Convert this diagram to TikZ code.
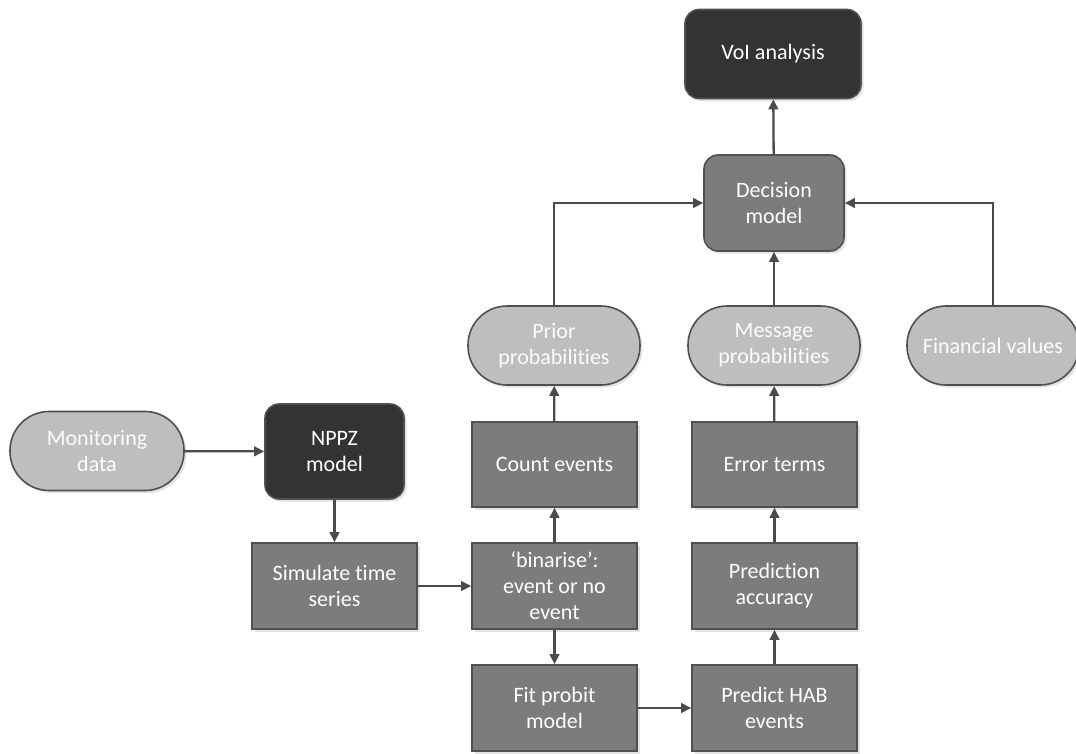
\documentclass[tikz,border=0pt]{standalone}
\usepackage{fontspec}
\setmainfont[Ligatures={NoCommon}]{Carlito}
\usetikzlibrary{arrows.meta,shadows}

\definecolor{darkbox}{RGB}{51,51,51}
\definecolor{midbox}{RGB}{124,124,124}
\definecolor{lightbox}{RGB}{190,190,190}
\definecolor{edgegray}{RGB}{80,80,80}
\definecolor{arrowgray}{RGB}{75,75,75}

\tikzset{
  every picture/.style={line width=1.6pt},
  boxbase/.style={draw=edgegray, text=white, align=center, inner sep=2pt,
    font=\fontsize{22}{26}\selectfont,
    drop shadow={opacity=0.22, shadow xshift=2.5pt, shadow yshift=-2.5pt}},
  darkrnd/.style={boxbase, fill=darkbox, rounded corners=14pt},
  midrnd/.style={boxbase, fill=midbox, rounded corners=14pt},
  stadium/.style={boxbase, fill=lightbox, text=white!95!lightbox, rounded corners=39pt,
    minimum width=172pt, minimum height=79pt},
  procbox/.style={boxbase, fill=midbox, minimum width=165pt, minimum height=86pt},
  flow/.style={draw=arrowgray, line width=2.3pt, -{Triangle[length=10pt,width=9.5pt]}}
}

\begin{document}
\begin{tikzpicture}[x=1pt,y=1pt,yscale=-1,xscale=1]
\useasboundingbox (0,0) rectangle (1076,753);

% Top nodes
\node [darkrnd, minimum width=176pt, minimum height=89pt] (voi) at (773,54) {VoI analysis};
\node [midrnd, minimum width=140pt, minimum height=96pt] (decision) at (774,203) {Decision\\model};

% Probability nodes
\node [stadium] (prior) at (554,345.5) {Prior\\probabilities};
\node [stadium] (message) at (774,345.5) {Message\\probabilities};
\node [stadium] (financial) at (993,345.5) {Financial values};

% Left nodes
\node [stadium, minimum width=174pt] (monitoring) at (97,451) {Monitoring\\data};
\node [darkrnd, minimum width=139pt, minimum height=95pt] (nppz) at (334.5,451.5) {NPPZ\\model};

% Process boxes
\node [procbox, minimum height=85pt] (count) at (554.5,464.5) {Count events};
\node [procbox, minimum height=85pt] (error) at (774.5,464.5) {Error terms};
\node [procbox] (simulate) at (334.5,586) {Simulate time\\series};
\node [procbox] (binarise) at (554.5,586) {‘binarise’:\\event or no\\event};
\node [procbox] (accuracy) at (774.5,586) {Prediction\\accuracy};
\node [procbox] (probit) at (554.5,708) {Fit probit\\model};
\node [procbox] (predict) at (774.5,708) {Predict HAB\\events};

% Connectors
\draw [flow] (monitoring) -- (nppz);
\draw [flow] (nppz) -- (simulate);
\draw [flow] (simulate) -- (binarise);
\draw [flow] (binarise) -- (count);
\draw [flow] (binarise) -- (probit);
\draw [flow] (probit) -- (predict);
\draw [flow] (predict) -- (accuracy);
\draw [flow] (accuracy) -- (error);
\draw [flow] (error) -- (message);
\draw [flow] (count) -- (prior);
\draw [flow] (message) -- (decision);
\draw [flow] (prior.north) |- (decision.west);
\draw [flow] (financial.north) |- (decision.east);
\draw [flow] (decision) -- (voi);

\end{tikzpicture}
\end{document}
